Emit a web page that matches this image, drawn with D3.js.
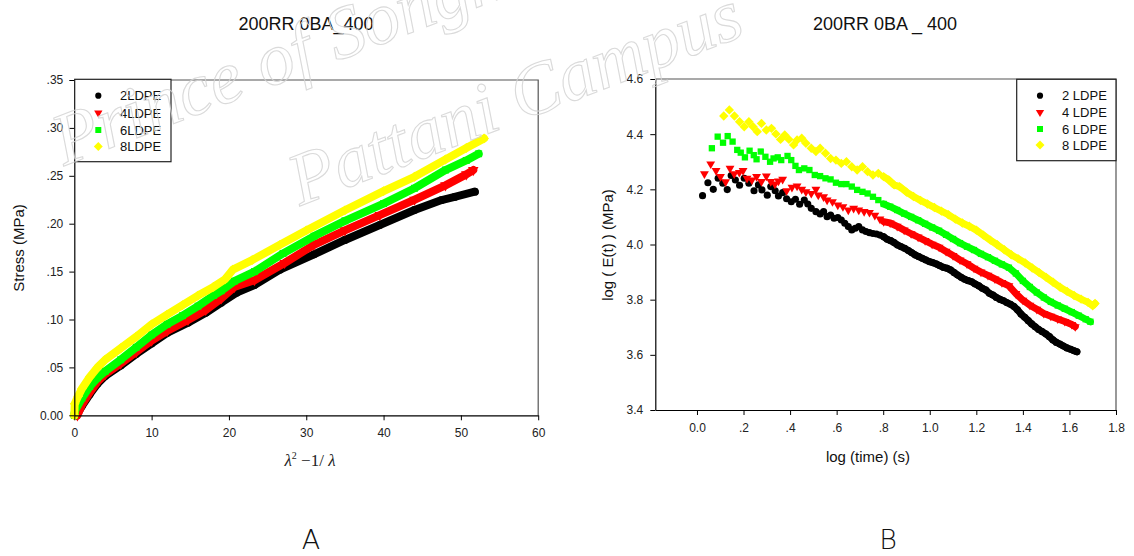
<!DOCTYPE html>
<html><head><meta charset="utf-8">
<script src="https://cdn.jsdelivr.net/npm/d3@7"></script>
<style>
body{margin:0;background:#fff;}
svg{display:block;font-family:"Liberation Sans",Arial,sans-serif;}
</style></head><body>
<svg id="fig" width="1134" height="556"></svg>
<script>
// ---- Panel A: stress vs. (λ² − 1/λ) ----
const stressCats = ["2LDPE", "4LDPE", "6LDPE", "8LDPE"];
const strainTicks = [0, 10, 20, 30, 40, 50, 60];
const stressTicks = [0, 0.05, 0.10, 0.15, 0.20, 0.25, 0.30, 0.35];
const stressTickLabels = ["0.00", ".05", ".10", ".15", ".20", ".25", ".30", ".35"];

const stress2LDPE = [[0.3,0.000],[1,0.010],[2,0.022],[3,0.033],[4,0.041],[6,0.052],[8,0.064],[10,0.075],[12,0.086],[14.7,0.0967],[17,0.107],[19,0.1176],[21,0.128],[23.3,0.136],[26.6,0.152],[31,0.168],[35,0.183],[39.5,0.1986],[44,0.2143],[47.5,0.2247],[49.2,0.228],[51.8,0.2334]];
const stress4LDPE = [[0.4,0.000],[1,0.011],[2,0.024],[3,0.035],[4,0.043],[6,0.054],[8,0.066],[10,0.078],[12,0.088],[14.7,0.0995],[17,0.110],[19,0.122],[20.7,0.134],[23.3,0.141],[27.2,0.159],[31,0.178],[35,0.193],[39.5,0.209],[44,0.225],[48,0.240],[50.7,0.2515],[51.6,0.256]];
const stress6LDPE = [[0,0.000],[0.1,0.005],[1,0.018],[2,0.030],[3,0.039],[4,0.046],[6,0.058],[8,0.071],[10,0.084],[12,0.095],[14,0.104],[16,0.114],[18,0.125],[19,0.130],[20.7,0.140],[23.3,0.150],[27,0.169],[31,0.187],[35,0.203],[40,0.221],[44,0.237],[48,0.256],[50.7,0.266],[52.3,0.273]];
const stress8LDPE = [[0,0.000],[0.05,0.012],[0.5,0.020],[1,0.028],[2,0.040],[3,0.050],[4,0.058],[6,0.070],[8,0.082],[10,0.095],[12,0.105],[14,0.115],[16,0.125],[18,0.134],[19.5,0.142],[20.5,0.152],[23,0.162],[26.6,0.178],[30,0.193],[35,0.214],[40,0.234],[44,0.249],[48,0.267],[50.7,0.279],[53,0.289]];

// ---- Panel B: log E(t) vs. log time ----
const modulusCats = ["2 LDPE", "4 LDPE", "6 LDPE", "8 LDPE"];
const timeTicks = [0, 0.2, 0.4, 0.6, 0.8, 1.0, 1.2, 1.4, 1.6, 1.8];
const timeTickLabels = ["0.0", ".2", ".4", ".6", ".8", "1.0", "1.2", "1.4", "1.6", "1.8"];
const modulusTicks = [3.4, 3.6, 3.8, 4.0, 4.2, 4.4, 4.6];
const modulusTickLabels = ["3.4", "3.6", "3.8", "4.0", "4.2", "4.4", "4.6"];

const modulus2LDPE = [[0.024,4.177],[0.047,4.224],[0.070,4.200],[0.091,4.240],[0.111,4.222],[0.130,4.199],[0.147,4.250],[0.165,4.234],[0.183,4.215],[0.203,4.240],[0.223,4.222],[0.245,4.195],[0.264,4.216],[0.279,4.198],[0.302,4.179],[0.317,4.210],[0.336,4.195],[0.350,4.176],[0.368,4.188],[0.385,4.166],[0.405,4.155],[0.423,4.164],[0.441,4.146],[0.461,4.161],[0.476,4.147],[0.491,4.131],[0.511,4.119],[0.529,4.111],[0.544,4.119],[0.559,4.101],[0.574,4.107],[0.589,4.095],[0.605,4.098],[0.620,4.089],[0.635,4.077],[0.650,4.065],[0.665,4.053],[0.680,4.059],[0.695,4.065],[0.711,4.053],[0.726,4.047],[0.741,4.043],[0.756,4.040],[0.771,4.038],[0.786,4.034],[0.802,4.028],[0.817,4.019],[0.832,4.014],[0.847,4.007],[0.862,3.998],[0.877,3.992],[0.892,3.986],[0.908,3.978],[0.923,3.970],[0.938,3.962],[0.953,3.956],[0.968,3.950],[0.983,3.944],[0.998,3.938],[1.014,3.934],[1.029,3.929],[1.044,3.923],[1.059,3.917],[1.074,3.914],[1.089,3.908],[1.105,3.898],[1.120,3.889],[1.135,3.881],[1.150,3.874],[1.165,3.869],[1.180,3.865],[1.195,3.857],[1.211,3.850],[1.226,3.841],[1.241,3.835],[1.256,3.823],[1.271,3.817],[1.286,3.808],[1.302,3.801],[1.317,3.796],[1.332,3.789],[1.347,3.783],[1.362,3.775],[1.377,3.763],[1.392,3.748],[1.408,3.736],[1.423,3.724],[1.438,3.712],[1.453,3.702],[1.468,3.692],[1.483,3.684],[1.498,3.676],[1.514,3.666],[1.529,3.654],[1.544,3.645],[1.559,3.639],[1.574,3.632],[1.589,3.625],[1.605,3.620],[1.620,3.615],[1.632,3.611]];
const modulus4LDPE = [[0.032,4.256],[0.059,4.292],[0.082,4.268],[0.101,4.246],[0.123,4.227],[0.142,4.276],[0.160,4.256],[0.182,4.261],[0.198,4.268],[0.215,4.240],[0.236,4.234],[0.256,4.246],[0.277,4.228],[0.298,4.248],[0.317,4.228],[0.335,4.219],[0.350,4.230],[0.368,4.236],[0.385,4.195],[0.408,4.207],[0.430,4.212],[0.450,4.200],[0.468,4.191],[0.491,4.185],[0.511,4.200],[0.521,4.179],[0.544,4.173],[0.559,4.161],[0.582,4.155],[0.605,4.143],[0.627,4.137],[0.650,4.125],[0.673,4.131],[0.695,4.125],[0.718,4.119],[0.741,4.116],[0.764,4.106],[0.786,4.092],[0.802,4.083],[0.830,4.078],[0.860,4.066],[0.890,4.052],[0.920,4.039],[0.950,4.027],[0.980,4.014],[1.010,4.001],[1.040,3.990],[1.070,3.975],[1.100,3.960],[1.130,3.944],[1.160,3.930],[1.190,3.914],[1.220,3.900],[1.250,3.888],[1.280,3.875],[1.310,3.862],[1.340,3.850],[1.370,3.822],[1.400,3.798],[1.430,3.780],[1.460,3.765],[1.490,3.750],[1.520,3.740],[1.550,3.730],[1.580,3.721],[1.610,3.710],[1.625,3.702]];
const modulus6LDPE = [[0.064,4.349],[0.089,4.391],[0.112,4.369],[0.132,4.393],[0.153,4.373],[0.173,4.343],[0.188,4.333],[0.206,4.316],[0.226,4.340],[0.244,4.324],[0.256,4.309],[0.274,4.337],[0.294,4.318],[0.314,4.300],[0.329,4.312],[0.347,4.316],[0.362,4.306],[0.389,4.321],[0.405,4.306],[0.423,4.285],[0.438,4.270],[0.461,4.276],[0.483,4.270],[0.506,4.252],[0.529,4.248],[0.552,4.240],[0.574,4.236],[0.597,4.224],[0.620,4.219],[0.642,4.219],[0.665,4.210],[0.688,4.198],[0.711,4.191],[0.733,4.185],[0.756,4.173],[0.779,4.161],[0.802,4.147],[0.830,4.137],[0.860,4.125],[0.890,4.112],[0.920,4.100],[0.950,4.088],[0.980,4.075],[1.010,4.062],[1.040,4.050],[1.070,4.035],[1.100,4.020],[1.130,4.005],[1.160,3.992],[1.190,3.980],[1.220,3.966],[1.250,3.954],[1.280,3.941],[1.310,3.928],[1.340,3.916],[1.370,3.895],[1.400,3.868],[1.430,3.846],[1.460,3.826],[1.490,3.808],[1.520,3.792],[1.550,3.779],[1.580,3.767],[1.610,3.755],[1.640,3.742],[1.670,3.729],[1.690,3.720]];
const modulus8LDPE = [[0.115,4.466],[0.139,4.488],[0.161,4.466],[0.183,4.445],[0.203,4.427],[0.223,4.445],[0.241,4.427],[0.259,4.409],[0.277,4.439],[0.298,4.415],[0.320,4.421],[0.339,4.401],[0.359,4.381],[0.377,4.397],[0.395,4.381],[0.415,4.361],[0.430,4.379],[0.450,4.385],[0.468,4.367],[0.491,4.349],[0.511,4.337],[0.529,4.349],[0.552,4.331],[0.574,4.312],[0.597,4.306],[0.620,4.294],[0.642,4.300],[0.665,4.282],[0.688,4.270],[0.711,4.282],[0.733,4.264],[0.756,4.252],[0.779,4.258],[0.802,4.246],[0.824,4.234],[0.847,4.216],[0.870,4.210],[0.900,4.190],[0.930,4.174],[0.960,4.160],[0.990,4.147],[1.020,4.134],[1.050,4.121],[1.080,4.108],[1.110,4.092],[1.140,4.078],[1.170,4.066],[1.200,4.052],[1.230,4.034],[1.260,4.016],[1.290,3.999],[1.320,3.981],[1.350,3.963],[1.380,3.948],[1.410,3.933],[1.440,3.915],[1.470,3.898],[1.500,3.881],[1.530,3.863],[1.560,3.845],[1.590,3.830],[1.620,3.815],[1.650,3.802],[1.680,3.790],[1.700,3.778],[1.710,3.786]];

const seriesColors = ["#000000", "#ff0000", "#00ff00", "#ffff00"];

const svg = d3.select("#fig");
svg.append("rect").attr("width", 1134).attr("height", 556).attr("fill", "#fff");

// marker shapes: circle, down-triangle, square, diamond
const shapeTypes = [d3.symbolCircle, d3.symbolTriangle, d3.symbolSquare, d3.symbolSquare];
const shapeRot = [0, 180, 0, 45];
function marker(g, i, size) {
  return g.append("path")
    .attr("d", d3.symbol().type(shapeTypes[i]).size(size)())
    .attr("fill", seriesColors[i]);
}

function frame(g, x, y) {
  const [x0, x1] = x.range(), [y0, y1] = y.range();
  g.append("path").attr("d", `M${x0},${y1}H${x1}V${y0}`).attr("fill", "none")
    .attr("stroke", "#555").attr("stroke-width", 1.2);
}

function styleAxis(sel) {
  sel.select(".domain").attr("stroke", "#000").attr("stroke-width", 1.2);
  sel.selectAll(".tick line").attr("stroke", "#000");
  sel.selectAll(".tick text").attr("fill", "#222").style("font-size", "12px")
    .style("font-family", "'Liberation Sans', Arial, sans-serif");
}

function legend(g, x0, y0, w, h, markerX, textX, rowY, names, sizes) {
  g.append("rect").attr("x", x0).attr("y", y0).attr("width", w).attr("height", h)
    .attr("fill", "#fff").attr("stroke", "#222").attr("stroke-width", 1.2);
  names.forEach((n, i) => {
    marker(g, i, sizes[i]).attr("transform", `translate(${markerX},${rowY[i]}) rotate(${shapeRot[i]})`);
    g.append("text").attr("x", textX).attr("y", rowY[i]).attr("dy", "0.36em")
      .style("font-size", "13px").attr("fill", "#111").text(n);
  });
}

// ---------------- Panel A ----------------
{
  const x = d3.scaleLinear().domain([0, 60]).range([74.3, 538.2]);
  const y = d3.scaleLinear().domain([0, 0.35]).range([415.3, 80]);
  const g = svg.append("g");
  frame(g, x, y);

  const series = [stress2LDPE, stress4LDPE, stress6LDPE, stress8LDPE];
  const line = d3.line().x(d => x(d[0])).y(d => y(d[1]));
  series.forEach((s, i) => {
    const sg = g.append("g");
    sg.append("path").attr("d", line(s)).attr("fill", "none").attr("stroke", seriesColors[i])
      .attr("stroke-width", 8).attr("stroke-linejoin", "round").attr("stroke-linecap", "round");
    s.forEach(d => marker(sg, i, 48).attr("transform", `translate(${x(d[0])},${y(d[1])}) rotate(${shapeRot[i]})`));
  });

  g.append("g").attr("transform", "translate(0,415.3)")
    .call(d3.axisBottom(x).tickValues(strainTicks).tickFormat(d3.format("d")).tickSize(5).tickPadding(8).tickSizeOuter(0))
    .call(styleAxis);
  g.append("g").attr("transform", "translate(74.3,0)")
    .call(d3.axisLeft(y).tickValues(stressTicks).tickFormat((d, i) => stressTickLabels[i]).tickSize(5).tickPadding(6).tickSizeOuter(0))
    .call(styleAxis);

  legend(g, 74.7, 79.3, 96.3, 82.4, 98.3, 120, [95.7, 113, 130, 146.5], stressCats, [30, 30, 36, 40]);

  g.append("text").attr("transform", "translate(24,248) rotate(-90)").attr("text-anchor", "middle")
    .style("font-size", "15px").attr("fill", "#111").text("Stress (MPa)");

  const xl = g.append("text").attr("x", 310).attr("y", 466).attr("text-anchor", "middle")
    .style("font-family", "'Liberation Serif', 'Times New Roman', serif").style("font-size", "17px").attr("fill", "#222");
  xl.append("tspan").style("font-style", "italic").text("λ");
  xl.append("tspan").attr("dy", -7).style("font-size", "10px").text("2");
  xl.append("tspan").attr("dy", 7).text(" \u22121/ ");
  xl.append("tspan").style("font-style", "italic").text("λ");

  svg.append("text").attr("x", 306).attr("y", 30).attr("text-anchor", "middle")
    .style("font-size", "18px").attr("fill", "#111").text("200RR 0BA_400");
  svg.append("text").attr("x", 311).attr("y", 549).attr("text-anchor", "middle")
    .style("font-family", "'DejaVu Sans', sans-serif").style("font-weight", 200).style("font-size", "27px")
    .attr("fill", "#111").text("A");
}

// ---------------- Panel B ----------------
{
  const x = d3.scaleLinear().domain([-0.179, 1.8]).range([655.3, 1116]);
  const y = d3.scaleLinear().domain([3.4, 4.6]).range([410, 79]);
  const g = svg.append("g");
  frame(g, x, y);

  const series = [modulus2LDPE, modulus4LDPE, modulus6LDPE, modulus8LDPE];
  const sizes = [40, 34, 40, 44];
  // beyond log t ≈ 0.8 the readings are so closely spaced that the markers merge into a band
  const denseFrom = 0.79;
  const line = d3.line().x(d => x(d[0])).y(d => y(d[1]));
  series.forEach((s, i) => {
    const sg = g.append("g");
    sg.append("path").attr("d", line(s.filter(d => d[0] >= denseFrom))).attr("fill", "none")
      .attr("stroke", seriesColors[i]).attr("stroke-width", 7)
      .attr("stroke-linejoin", "round").attr("stroke-linecap", "round");
    s.forEach(d => marker(sg, i, sizes[i]).attr("transform", `translate(${x(d[0])},${y(d[1])}) rotate(${shapeRot[i]})`));
  });

  g.append("g").attr("transform", "translate(0,410)")
    .call(d3.axisBottom(x).tickValues(timeTicks).tickFormat((d, i) => timeTickLabels[i]).tickSize(5).tickPadding(8).tickSizeOuter(0))
    .call(styleAxis);
  g.append("g").attr("transform", "translate(655.3,0)")
    .call(d3.axisLeft(y).tickValues(modulusTicks).tickFormat((d, i) => modulusTickLabels[i]).tickSize(5).tickPadding(7).tickSizeOuter(0))
    .call(styleAxis);

  legend(g, 1016.7, 79.3, 99.3, 81.4, 1040, 1062, [95.7, 112.3, 129, 145], modulusCats, [30, 30, 36, 40]);

  g.append("text").attr("transform", "translate(613,245) rotate(-90)").attr("text-anchor", "middle")
    .style("font-size", "15px").attr("fill", "#111").text("log ( E(t) ) (MPa)");
  g.append("text").attr("x", 868).attr("y", 462).attr("text-anchor", "middle")
    .style("font-size", "15px").attr("fill", "#111").text("log (time) (s)");

  svg.append("text").attr("x", 885).attr("y", 30).attr("text-anchor", "middle")
    .style("font-size", "18px").attr("fill", "#111").text("200RR 0BA _ 400");
  svg.append("text").attr("x", 888).attr("y", 549).attr("text-anchor", "middle")
    .style("font-family", "'DejaVu Sans', sans-serif").style("font-weight", 200).style("font-size", "27px")
    .attr("fill", "#111").text("B");
}

// faint campus watermark laid over the whole figure
const wm = svg.append("g").attr("fill", "none").attr("stroke", "#d4d4d4").attr("stroke-width", 1.1)
  .attr("opacity", 0.85).style("pointer-events", "none")
  .style("font-family", "'Liberation Serif', serif").style("font-style", "italic").style("font-size", "74px");
wm.append("text").attr("transform", "translate(64,166) rotate(-21)").text("Prince of Songkla");
wm.append("text").attr("transform", "translate(300,206) rotate(-21)").text("Pattani Campus");
</script>
</body></html>
